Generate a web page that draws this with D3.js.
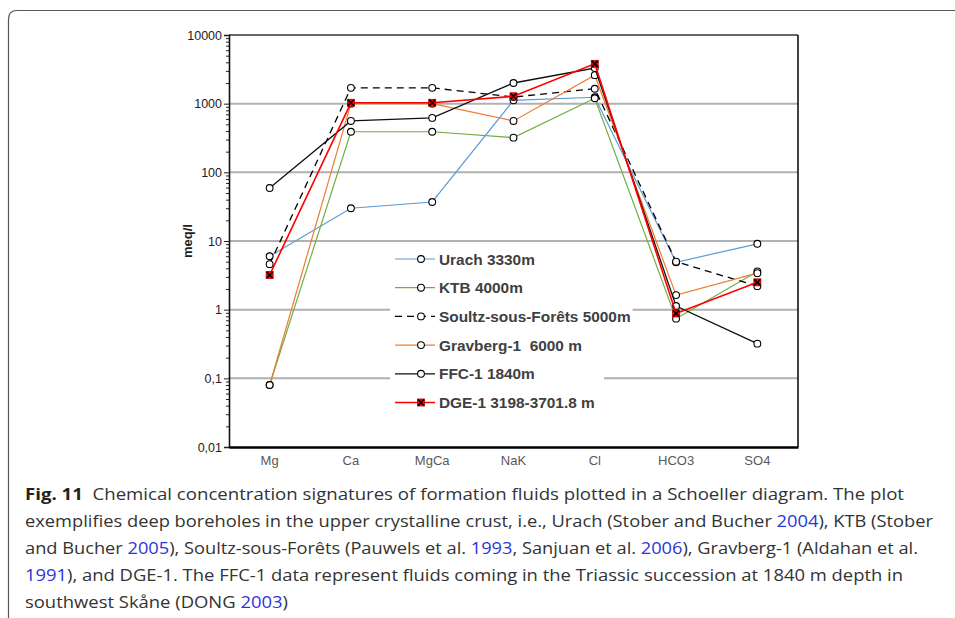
<!DOCTYPE html>
<html>
<head>
<meta charset="utf-8">
<script src="https://cdn.jsdelivr.net/npm/d3@7"></script>
<style>
  html, body { margin: 0; padding: 0; background: #fff; }
  svg { display: block; }
  .arial { font-family: "Liberation Sans", Arial, Helvetica, sans-serif; }
</style>
</head>
<body>
<svg id="chart" width="955" height="618"></svg>
<script>
// Ion groups on the x axis of the Schoeller diagram
const categories = ["Mg", "Ca", "MgCa", "NaK", "Cl", "HCO3", "SO4"];

// Concentrations in meq/l per borehole
const urach    = [6.0, 30, 37, 1120, 1240, 4.9, 9.1];
const ktb      = [0.08, 390, 390, 320, 1200, 0.74, 3.6];
const soultz   = [4.6, 1700, 1700, 1250, 1650, 5.0, 2.2];
const gravberg = [0.08, 1000, 1000, 560, 2600, 1.63, 3.4];
const ffc      = [59, 560, 620, 2000, 3300, 1.13, 0.32];
const dge      = [3.2, 1030, 1030, 1280, 3800, 0.88, 2.5];

const seriesNames = ["Urach 3330m", "KTB 4000m", "Soultz-sous-Forêts 5000m",
                     "Gravberg-1  6000 m", "FFC-1 1840m", "DGE-1 3198-3701.8 m"];

// Log axis ticks
const yTickValues = [0.01, 0.1, 1, 10, 100, 1000, 10000];
const yTickLabels = ["0,01", "0,1", "1", "10", "100", "1000", "10000"];

const series = [
  { name: seriesNames[0], values: urach,    color: "#5b9bd5", width: 1.2, dash: null,  marker: "circle" },
  { name: seriesNames[1], values: ktb,      color: "#70ad47", width: 1.2, dash: null,  marker: "circle" },
  { name: seriesNames[2], values: soultz,   color: "#000000", width: 1.3, dash: "7,5", marker: "circle" },
  { name: seriesNames[3], values: gravberg, color: "#ed7d31", width: 1.2, dash: null,  marker: "circle" },
  { name: seriesNames[4], values: ffc,      color: "#111111", width: 1.3, dash: null,  marker: "circle" },
  { name: seriesNames[5], values: dge,      color: "#ff0000", width: 1.6, dash: null,  marker: "cross" }
];

const svg = d3.select("#chart");
const plot = { left: 229, right: 798, top: 35, bottom: 447 };

const x = d3.scaleBand().domain(categories).range([plot.left, plot.right]).padding(0);
const cx = c => x(c) + x.bandwidth() / 2;
const y = d3.scaleLog().domain([0.01, 10000]).range([plot.bottom, plot.top]);

// Outer figure frame with rounded top-left corner
svg.append("path")
  .attr("d", "M8.5,640 L8.5,19 Q8.5,10.5 17,10.5 L960,10.5")
  .attr("fill", "none").attr("stroke", "#555").attr("stroke-width", 1.2);

// Horizontal gridlines at each decade
svg.append("g").selectAll("line")
  .data(yTickValues.filter(v => v > 0.01 && v < 10000))
  .join("line")
  .attr("x1", plot.left).attr("x2", plot.right)
  .attr("y1", d => y(d)).attr("y2", d => y(d))
  .attr("stroke", "#b0b0b0").attr("stroke-width", 2);

// Top and right frame of plot area
svg.append("line").attr("x1", plot.left).attr("x2", plot.right)
  .attr("y1", y(10000)).attr("y2", y(10000))
  .attr("stroke", "#333").attr("stroke-width", 1.6);
svg.append("line").attr("x1", plot.right).attr("x2", plot.right)
  .attr("y1", plot.top).attr("y2", plot.bottom)
  .attr("stroke", "#111").attr("stroke-width", 1.6);

// Minor log ticks
const minorTicks = [];
for (let e = -2; e < 4; e++) for (let m = 2; m <= 9; m++) minorTicks.push(m * Math.pow(10, e));
const minorAxis = d3.axisLeft(y).tickValues(minorTicks).tickSize(3).tickFormat("");
const gMinor = svg.append("g").attr("transform", `translate(${plot.left},0)`).call(minorAxis);
gMinor.select(".domain").remove();
gMinor.selectAll("line").attr("stroke", "#222").attr("stroke-width", 1);

// Major y axis with decimal-comma labels
const yAxis = d3.axisLeft(y).tickValues(yTickValues).tickSize(5)
  .tickFormat((d, i) => yTickLabels[i]);
const gY = svg.append("g").attr("transform", `translate(${plot.left},0)`).call(yAxis)
  .attr("font-family", null).attr("class", "arial");
gY.select(".domain").attr("stroke", "#111").attr("stroke-width", 1.6);
gY.selectAll("line").attr("stroke", "#222");
gY.selectAll("text").attr("font-size", 12.5).attr("fill", "#222").attr("x", -7);

// X axis
const xAxis = d3.axisBottom(x).tickSize(0).tickPadding(9);
const gX = svg.append("g").attr("transform", `translate(0,${plot.bottom})`).call(xAxis)
  .attr("font-family", null).attr("class", "arial");
gX.select(".domain").attr("stroke", "#000").attr("stroke-width", 2.6);
gX.selectAll("text").attr("font-size", 13).attr("fill", "#595959");

// Y axis title
svg.append("text").attr("class", "arial")
  .attr("transform", `translate(192,${(plot.top + plot.bottom) / 2}) rotate(-90)`)
  .attr("text-anchor", "middle")
  .attr("font-weight", "bold").attr("font-size", 13).attr("fill", "#222")
  .text("meq/l");

function drawMarker(g, s, mx, my) {
  if (s.marker === "circle") {
    g.append("circle").attr("cx", mx).attr("cy", my).attr("r", 3.4)
      .attr("fill", "#fff").attr("stroke", "#000").attr("stroke-width", 1.1);
  } else {
    g.append("rect").attr("x", mx - 3.5).attr("y", my - 3.5).attr("width", 7).attr("height", 7)
      .attr("fill", "#ff0000").attr("stroke", "#c00000").attr("stroke-width", 0.8);
    g.append("path").attr("d", `M${mx - 3},${my - 3}L${mx + 3},${my + 3}M${mx + 3},${my - 3}L${mx - 3},${my + 3}`)
      .attr("stroke", "#000").attr("stroke-width", 1.6);
  }
}

// Legend, each row on its own white background
const legend = svg.append("g").attr("class", "arial");
const legendX = 390, legendY0 = 259, legendStep = 28.7;
series.forEach((s, i) => {
  const ly = legendY0 + i * legendStep;
  const g = legend.append("g");
  const bg = g.append("rect").attr("fill", "#fff");
  g.append("line").attr("x1", 395).attr("x2", 435).attr("y1", ly).attr("y2", ly)
    .attr("stroke", s.color).attr("stroke-width", Math.min(s.width, 1.3))
    .attr("stroke-dasharray", s.dash);
  drawMarker(g, s, 421, ly);
  const t = g.append("text").attr("x", 439).attr("y", ly + 5.5)
    .attr("font-weight", "bold").attr("font-size", 15.4).attr("fill", "#404040")
    .style("white-space", "pre")
    .text(s.name);
  const bb = t.node().getBBox();
  bg.attr("x", legendX).attr("y", ly - legendStep / 2)
    .attr("width", Math.max(214, bb.x + bb.width + 2 - legendX)).attr("height", legendStep);
});

// Series lines and markers
const line = d3.line().x((d, i) => cx(categories[i])).y(d => y(d));
series.forEach(s => {
  const g = svg.append("g");
  g.append("path").datum(s.values).attr("d", line)
    .attr("fill", "none").attr("stroke", s.color).attr("stroke-width", s.width)
    .attr("stroke-dasharray", s.dash);
  s.values.forEach((v, i) => drawMarker(g, s, cx(categories[i]), y(v)));
});

// Caption
const caption = svg.append("g")
  .style("font-family", "'Open Sans', 'Noto Sans', sans-serif")
  .attr("font-size", 16).attr("fill", "#333");
const captionLines = [
  { y: 500, end: 904, parts: [["Fig. 11", "b"], ["  Chemical concentration signatures of formation fluids plotted in a Schoeller diagram. The plot", ""]] },
  { y: 527, end: 933, parts: [["exemplifies deep boreholes in the upper crystalline crust, i.e., Urach (Stober and Bucher ", ""], ["2004", "l"], ["), KTB (Stober", ""]] },
  { y: 554, end: 918, parts: [["and Bucher ", ""], ["2005", "l"], ["), Soultz-sous-Forêts (Pauwels et al. ", ""], ["1993", "l"], [", Sanjuan et al. ", ""], ["2006", "l"], ["), Gravberg-1 (Aldahan et al.", ""]] },
  { y: 581, end: 903, parts: [["1991", "l"], ["), and DGE-1. The FFC-1 data represent fluids coming in the Triassic succession at 1840 m depth in", ""]] },
  { y: 608, end: 288, parts: [["southwest Skåne (DONG ", ""], ["2003", "l"], [")", ""]] }
];
captionLines.forEach(L => {
  const t = caption.append("text").attr("x", 25).attr("y", L.y)
    .style("white-space", "pre")
    .attr("textLength", L.end - 25).attr("lengthAdjust", "spacingAndGlyphs");
  L.parts.forEach(([txt, kind]) => {
    const sp = t.append("tspan").text(txt);
    if (kind === "b") sp.attr("font-weight", "bold").attr("fill", "#222");
    if (kind === "l") sp.attr("fill", "#2b35d8");
  });
});
</script>
</body>
</html>
